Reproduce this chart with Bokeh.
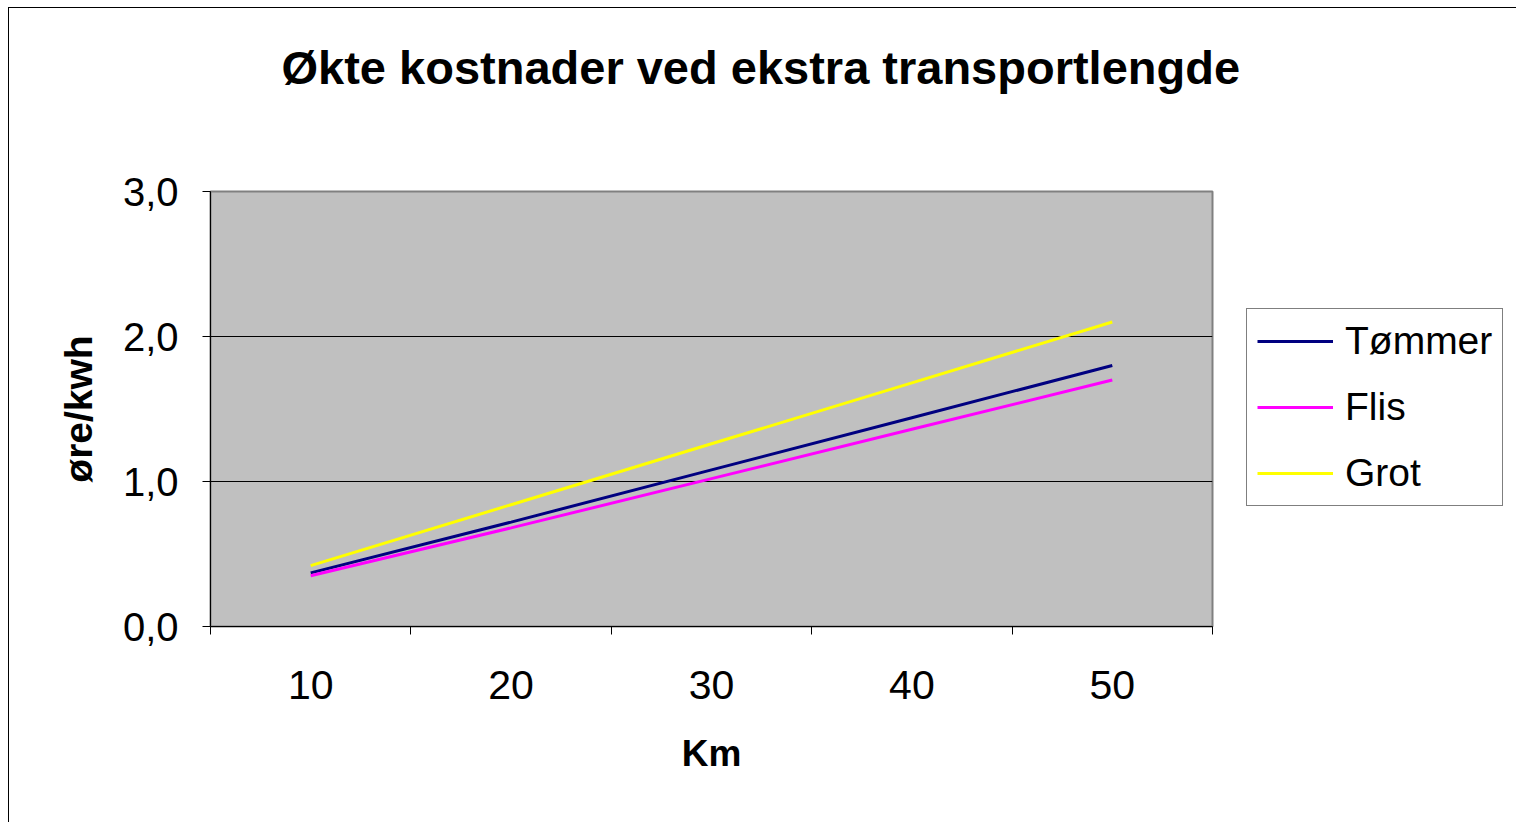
from bokeh.plotting import figure
from bokeh.models import (ColumnDataSource, Range1d, FixedTicker, CustomJSTickFormatter,
                          Legend, LegendItem, Title)
from bokeh.embed import file_html
from bokeh.resources import INLINE

km = [10, 20, 30, 40, 50]
tommer = [0.37, 0.72, 1.08, 1.44, 1.80]
flis = [0.35, 0.68, 1.02, 1.36, 1.70]
grot = [0.42, 0.84, 1.26, 1.68, 2.10]
series_names = ["Tømmer", "Flis", "Grot"]
series_colors = ["#000080", "#FF00FF", "#FFFF00"]
y_ticks = [0, 1, 2, 3]
x_boundaries = [5, 15, 25, 35, 45, 55]
title_text = "Økte kostnader ved ekstra transportlengde"

FONT = "Liberation Sans"

p = figure(frame_width=1002, frame_height=435, output_backend="svg", toolbar_location=None,
           title=None,
           x_range=Range1d(5, 55), y_range=Range1d(0, 3),
           min_border_left=210, min_border_right=300, min_border_top=191, min_border_bottom=196)
p.border_fill_color = None
p.styles = {
    "background-color": "white",
    "background-image": "linear-gradient(#000, #000), linear-gradient(#000, #000)",
    "background-size": "1px 100%, 100% 1px",
    "background-position": "8px 7px, 8px 7px",
    "background-repeat": "no-repeat",
}
p.background_fill_color = "#C0C0C0"
p.outline_line_color = "#808080"
p.outline_line_width = 2

# spacer panel between title and frame, then the title itself
p.add_layout(Title(text=" ", text_font=FONT, text_font_size="10px", standoff=85), "above")
p.add_layout(Title(text=title_text, text_font=FONT, text_font_size="47px",
                   text_font_style="bold", text_color="black",
                   align="left", offset=71, standoff=0), "above")

src = ColumnDataSource(dict(km=km, tommer=tommer, flis=flis, grot=grot))
renderers = []
for col, name, color in zip(["tommer", "flis", "grot"], series_names, series_colors):
    r = p.line("km", col, source=src, line_color=color, line_width=3)
    renderers.append(r)

# axes
p.xaxis.ticker = FixedTicker(ticks=km, minor_ticks=x_boundaries)
p.xaxis.major_tick_line_color = None
p.xaxis.major_tick_out = 0
p.xaxis.major_tick_in = 0
p.xaxis.minor_tick_out = 8
p.xaxis.minor_tick_in = 0
p.xaxis.minor_tick_line_color = "black"
p.xaxis.axis_line_color = "black"
p.xaxis.major_label_standoff = 36
p.xaxis.major_label_text_font = FONT
p.xaxis.major_label_text_font_size = "41px"
p.xaxis.major_label_text_color = "black"
p.xaxis.axis_label = "Km"
p.xaxis.axis_label_text_font = FONT
p.xaxis.axis_label_text_font_size = "37px"
p.xaxis.axis_label_text_font_style = "bold"
p.xaxis.axis_label_text_color = "black"
p.xaxis.axis_label_standoff = 31

p.yaxis.ticker = FixedTicker(ticks=y_ticks, minor_ticks=[])
p.yaxis.formatter = CustomJSTickFormatter(code="return tick.toFixed(1).replace('.', ',')")
p.yaxis.major_tick_out = 8
p.yaxis.major_tick_in = 0
p.yaxis.major_tick_line_color = "black"
p.yaxis.axis_line_color = "black"
p.yaxis.major_label_standoff = 24
p.yaxis.major_label_text_font = FONT
p.yaxis.major_label_text_font_size = "40px"
p.yaxis.major_label_text_color = "black"
p.yaxis.axis_label = "øre/kwh"
p.yaxis.axis_label_text_font = FONT
p.yaxis.axis_label_text_font_size = "39px"
p.yaxis.axis_label_text_font_style = "bold"
p.yaxis.axis_label_text_color = "black"
p.yaxis.axis_label_standoff = 20

p.xgrid.visible = False
p.ygrid.ticker = FixedTicker(ticks=[1, 2])
p.ygrid.grid_line_color = "black"
p.ygrid.grid_line_width = 1

legend = Legend(items=[LegendItem(label=n, renderers=[r]) for n, r in zip(series_names, renderers)],
                location=(34, 120), orientation="vertical",
                label_text_font=FONT, label_text_font_size="39px", label_text_color="black",
                glyph_width=76, glyph_height=40, label_height=40, spacing=22,
                padding=10, margin=0, label_standoff=12,
                border_line_color="black", border_line_width=1,
                background_fill_color="white", background_fill_alpha=1.0)
p.add_layout(legend, "right")

open("out.html", "w").write(file_html(p, INLINE))
